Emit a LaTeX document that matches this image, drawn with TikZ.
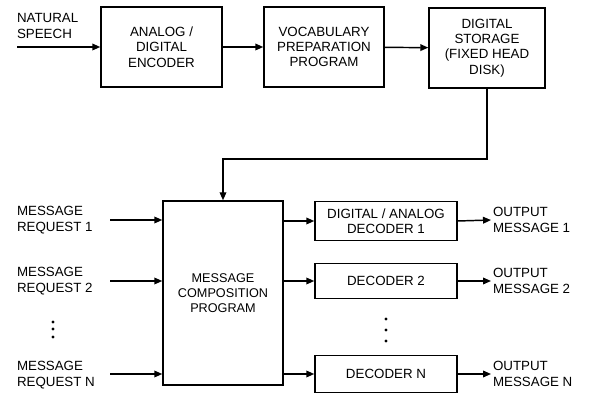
\documentclass[tikz,border=0pt]{standalone}
\usepackage{fontspec}
\setmainfont{Liberation Sans}
\usetikzlibrary{arrows.meta}

\begin{document}
\begin{tikzpicture}[
  x=0.75pt, y=-0.75pt,
  line width=1.1pt,
  every node/.style={font=\fontsize{10}{11.5}\selectfont, align=center},
  block/.style={rectangle, draw, line width=1.1pt, inner sep=2pt},
  label text/.style={anchor=west, align=left, inner sep=1pt},
  arr/.style={-{Triangle[length=6pt,width=5pt]}},
  dot/.style={circle, fill, inner sep=0pt, minimum size=2.6pt}
]
\useasboundingbox (0,0) rectangle (593,395);

% Nodes
\node[block, minimum width=121*0.75pt, minimum height=80*0.75pt] (ad) at (161.5,47) {ANALOG /\\DIGITAL\\ENCODER};
\node[block, minimum width=120*0.75pt, minimum height=80*0.75pt] (voc) at (324,47) {VOCABULARY\\PREPARATION\\PROGRAM};
\node[block, minimum width=116*0.75pt, minimum height=80*0.75pt] (st) at (487,48) {DIGITAL\\STORAGE\\(FIXED HEAD\\DISK)};
\node[block, minimum width=120*0.75pt, minimum height=184*0.75pt, font=\fontsize{9.5}{11}\selectfont] (comp) at (223,293) {MESSAGE\\COMPOSITION\\PROGRAM};

\node[block, minimum width=142*0.75pt, minimum height=39*0.75pt] (d1) at (386,221) {DIGITAL / ANALOG\\DECODER 1};
\node[block, minimum width=142*0.75pt, minimum height=35*0.75pt] (d2) at (386,281) {DECODER 2};
\node[block, minimum width=142*0.75pt, minimum height=37*0.75pt] (dn) at (386,374) {DECODER N};

\node[label text] (speech) at (15,26) {NATURAL\\SPEECH};
\node[label text] (m1) at (15,220) {MESSAGE\\REQUEST 1};
\node[label text] (m2) at (15,281) {MESSAGE\\REQUEST 2};
\node[label text] (mn) at (15,375) {MESSAGE\\REQUEST N};

\node[label text] (o1) at (491,220) {OUTPUT\\MESSAGE 1};
\node[label text] (o2) at (491,281) {OUTPUT\\MESSAGE 2};
\node[label text] (on) at (491,374) {OUTPUT\\MESSAGE N};

\coordinate (in) at (17,47);
\coordinate (turn) at (223,159);
\coordinate (r1) at (110,220);
\coordinate (r2) at (110,281);
\coordinate (rn) at (110,374);

% dots
\foreach \y in {322,329,337} \node[dot] at (53,\y) {};
\foreach \y in {319,330,341} \node[dot] at (386,\y) {};

% Edges
\draw[arr] (in) -- (in -| ad.west);
\draw[arr] (ad) -- (voc);
\draw[arr] (voc) -- (st);
\draw[arr] (st.south) |- (turn) -- (comp.north);

\draw[arr] (r1) -- (r1 -| comp.west);
\draw[arr] (r2) -- (r2 -| comp.west);
\draw[arr] (rn) -- (rn -| comp.west);

\draw[arr] (d1.west -| comp.east) -- (d1.west);
\draw[arr] (d2.west -| comp.east) -- (d2.west);
\draw[arr] (dn.west -| comp.east) -- (dn.west);

\draw[arr] (d1.east) -- (o1.west);
\draw[arr] (d2.east) -- (o2.west);
\draw[arr] (dn.east) -- (on.west);

\end{tikzpicture}
\end{document}
